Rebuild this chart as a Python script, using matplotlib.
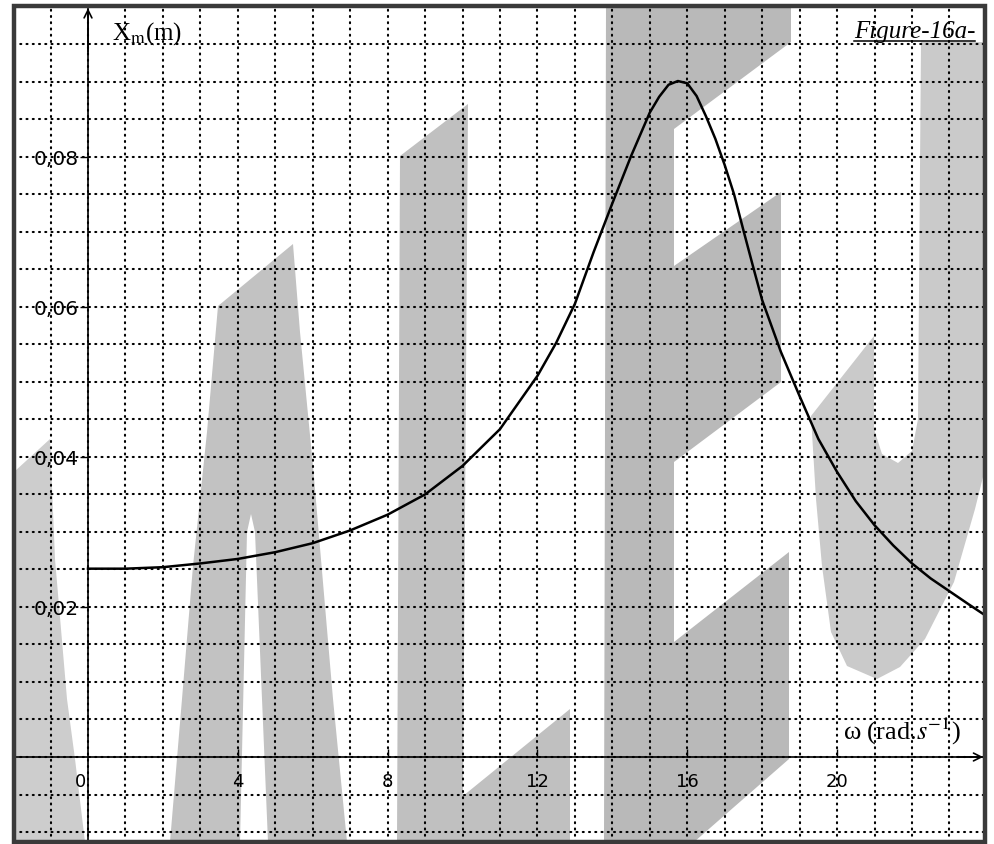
import matplotlib
matplotlib.use('Agg')
import matplotlib.pyplot as plt
import numpy as np
from matplotlib.patches import Polygon, Rectangle
from matplotlib.transforms import Affine2D
from matplotlib.lines import Line2D

plt.rcParams['mathtext.fontset'] = 'stix'

# courbe de résonance Xm(omega)
omega = [0, 1, 2, 3, 4, 5, 6, 7, 8, 9, 10, 11, 12, 12.5, 13, 13.5, 14, 14.5,
         14.75, 15, 15.25, 15.5, 15.75, 16, 16.25, 16.5, 16.75, 17, 17.25,
         17.5, 17.75, 18, 18.5, 19, 19.5, 20, 20.5, 21, 21.5, 22, 22.5, 23,
         23.5, 23.95]
xm = [0.0251, 0.0251, 0.0253, 0.0258, 0.0264, 0.0273, 0.0285, 0.0302, 0.0323,
      0.0350, 0.0388, 0.0437, 0.0508, 0.0552, 0.0604, 0.0673, 0.0738, 0.0801,
      0.0830, 0.0859, 0.0880, 0.0896, 0.0901, 0.0898, 0.0881, 0.0854, 0.0824,
      0.0789, 0.0750, 0.0702, 0.0655, 0.0609, 0.0540, 0.0481, 0.0424, 0.0380,
      0.0341, 0.0309, 0.0282, 0.0258, 0.0238, 0.0221, 0.0204, 0.0189]

x_ticks = [4, 8, 12, 16, 20]
x_tick_labels = ['4', '8', '12', '16', '20']
y_ticks = [0.02, 0.04, 0.06, 0.08]
y_tick_labels = ['0,02', '0,04', '0,06', '0,08']

# zones grisées du scan (en pixels de l'image)
shading = [
    ([(14, 473), (50, 440), (55, 560), (67, 700), (75, 760), (85, 843), (14, 843)], '#cdcdcd'),
    ([(218, 307), (293, 245), (300, 333), (313, 467), (333, 700), (347, 843),
      (268, 843), (255, 533), (251, 515), (247, 533), (240, 843), (170, 843),
      (182, 700), (193, 567), (207, 433)], '#c2c2c2'),
    ([(400, 157), (468, 105), (463, 797), (570, 710), (570, 843), (397, 843)], '#c0c0c0'),
    ([(606, 7), (791, 7), (791, 43), (674, 130), (674, 267), (781, 193),
      (781, 383), (674, 463), (674, 643), (789, 553), (789, 760), (694, 843),
      (604, 843)], '#b9b9b9'),
    ([(921, 43), (985, 43), (985, 470), (975, 510), (954, 583), (925, 640),
      (900, 668), (877, 680), (847, 667), (831, 633), (822, 567), (816, 500),
      (811, 417), (874, 337), (874, 430), (882, 455), (898, 464), (912, 452),
      (918, 420)], '#cacaca'),
]

W, H = 994, 845
fig = plt.figure(figsize=(W / 100, H / 100), dpi=100)
ax = fig.add_axes([14 / W, 1 - 843 / H, (985 - 14) / W, (843 - 7) / H])
ax.set_xlim(-1.976, 23.95)
ax.set_ylim(-0.01133, 0.1001)

px = Affine2D().scale(1 / W, -1 / H).translate(0, 1) + fig.transFigure
for pts, c in shading:
    ax.add_patch(Polygon(pts, closed=True, transform=px, facecolor=c,
                         edgecolor='none', zorder=0))

# quadrillage pointillé
ax.set_xticks(x_ticks)
ax.set_xticklabels(x_tick_labels)
ax.set_xticks(np.arange(-1, 24, 1), minor=True)
ax.set_yticks(y_ticks)
ax.set_yticklabels(y_tick_labels)
ax.set_yticks(np.arange(-0.010, 0.0999, 0.005), minor=True)
ax.set_axisbelow(True)
ax.grid(which='both', color='k', linewidth=1.5, linestyle=(0, (0.5, 2.5)),
        dash_capstyle='round')

ax.tick_params(which='minor', length=0)
ax.tick_params(axis='x', which='major', direction='in', length=6, width=1,
               pad=11, labelsize=13)
ax.tick_params(axis='y', which='major', direction='out', length=6, width=1,
               pad=1, labelsize=14.5)

# axes au centre
for s in ['top', 'right']:
    ax.spines[s].set_visible(False)
ax.spines['left'].set_position(('data', 0))
ax.spines['bottom'].set_position(('data', 0))
ax.spines['left'].set_linewidth(1.2)
ax.spines['bottom'].set_linewidth(1.2)

ax.annotate('', xy=(23.9, 0), xytext=(23.2, 0), annotation_clip=False,
            arrowprops=dict(arrowstyle='->', color='k', lw=1.2,
                            mutation_scale=14, shrinkA=0, shrinkB=0))
ax.annotate('', xy=(0, 0.0998), xytext=(0, 0.094), annotation_clip=False,
            arrowprops=dict(arrowstyle='->', color='k', lw=1.2,
                            mutation_scale=14, shrinkA=0, shrinkB=0))
ax.annotate('0', xy=(0, 0), xytext=(-1, -11), textcoords='offset points',
            ha='right', va='top', fontsize=13)

# la courbe
ax.plot(omega, xm, color='k', lw=1.8, zorder=4, solid_joinstyle='round')

ax.text(0.63, 0.0966, r'X$_{\rm m}$(m)', family='Liberation Serif',
        fontsize=18, ha='left', va='center')
ax.text(20.15, 0.0035, r'ω (rad.$s^{-1}$)', family='Liberation Serif',
        fontsize=19, ha='left', va='center')
t = ax.text(23.69, 0.096, 'Figure-16a-', family='Liberation Serif',
            style='italic', fontsize=18, ha='right', va='baseline')

# cadre
ax.add_patch(Rectangle((0, 0), 1, 1, transform=ax.transAxes, fill=False,
                       lw=3.2, ec='#3a3a3a', zorder=6, clip_on=False))

# soulignement du titre
fig.canvas.draw()
bb = t.get_window_extent()
yb = ax.transData.transform((0, 0.096))[1] - 4
inv = fig.transFigure.inverted()
(x0, y0), (x1, y1) = inv.transform([(bb.x0, yb), (bb.x1, yb)])
fig.add_artist(Line2D([x0, x1], [y0, y1], color='k', lw=1.1,
                      transform=fig.transFigure))

fig.savefig('out.png', dpi=100)
